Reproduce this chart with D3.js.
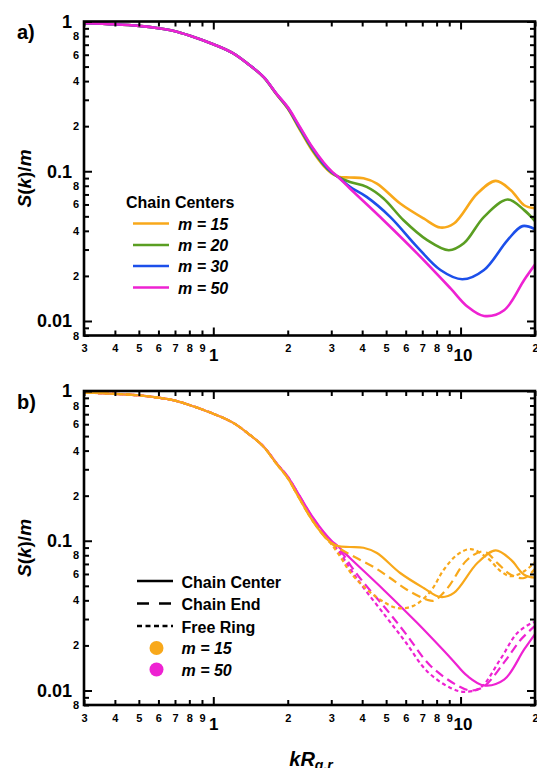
<!DOCTYPE html>
<html>
<head>
<meta charset="utf-8">
<script src="https://cdn.jsdelivr.net/npm/d3@7"></script>
<style>
  html, body { margin: 0; padding: 0; background: #fff; }
  svg { display: block; font-family: Arial, "Liberation Sans", sans-serif; }
</style>
</head>
<body>
<svg id="chart" width="537" height="768"></svg>
<script>
// ---------- axis ticks ----------
const xTickValues = [0.3, 0.4, 0.5, 0.6, 0.7, 0.8, 0.9, 1, 2, 3, 4, 5, 6, 7, 8, 9, 10, 20];
const xTickLabels = ["3", "4", "5", "6", "7", "8", "9", "1", "2", "3", "4", "5", "6", "7", "8", "9", "10", "2"];
const xMajorTicks = [1, 10];

const yTickValues = [0.008, 0.009, 0.01, 0.02, 0.03, 0.04, 0.05, 0.06, 0.07, 0.08, 0.09,
                     0.1, 0.2, 0.3, 0.4, 0.5, 0.6, 0.7, 0.8, 0.9, 1];
const yTickLabels = ["8", "", "0.01", "2", "", "4", "", "6", "", "8", "",
                     "0.1", "2", "", "4", "", "6", "", "8", "", "1"];
const yMajorTicks = [0.01, 0.1, 1];

// ---------- a) chain centers ----------
const kCenter15 = [0.3, 0.4, 0.5, 0.6, 0.7, 0.8, 1.0, 1.2, 1.4, 1.6, 1.8, 2.0, 2.2, 2.5, 2.8, 3.0, 3.2,
                   3.57, 4.05, 4.59, 5.7, 7.09, 8.29, 9.4, 11.69, 13.87, 15.97, 18.08, 20];
const sCenter15 = [0.975, 0.958, 0.935, 0.902, 0.862, 0.807, 0.705, 0.615, 0.512, 0.423, 0.327, 0.262, 0.199, 0.139, 0.108, 0.097, 0.092,
                   0.0908, 0.0898, 0.0828, 0.0609, 0.0484, 0.0421, 0.0448, 0.071, 0.0862, 0.0747, 0.0593, 0.0566];

const kCenter20 = [0.3, 0.4, 0.5, 0.6, 0.7, 0.8, 1.0, 1.2, 1.4, 1.6, 1.8, 2.0, 2.2, 2.5, 2.8, 3.0, 3.2,
                   3.57, 4.17, 4.88, 5.88, 7.33, 8.96, 10.31, 12.44, 15.49, 18.08, 20];
const sCenter20 = [0.975, 0.958, 0.935, 0.902, 0.862, 0.807, 0.705, 0.615, 0.512, 0.424, 0.328, 0.264, 0.202, 0.142, 0.110, 0.0985, 0.0918,
                   0.0848, 0.0786, 0.0658, 0.0471, 0.0347, 0.0297, 0.033, 0.0496, 0.0648, 0.055, 0.0465];

const kCenter30 = [0.3, 0.4, 0.5, 0.6, 0.7, 0.8, 1.0, 1.2, 1.4, 1.6, 1.8, 2.0, 2.2, 2.5, 2.8, 3.0, 3.2,
                   3.57, 4.17, 5.19, 6.67, 8.29, 10.16, 12.44, 15.49, 17.8, 20];
const sCenter30 = [0.975, 0.958, 0.935, 0.902, 0.862, 0.807, 0.705, 0.615, 0.512, 0.425, 0.329, 0.266, 0.205, 0.145, 0.112, 0.099, 0.0915,
                   0.0786, 0.0674, 0.0496, 0.0313, 0.0219, 0.019, 0.0219, 0.0347, 0.043, 0.041];

const kCenter50 = [0.3, 0.4, 0.5, 0.6, 0.7, 0.8, 1.0, 1.2, 1.4, 1.6, 1.8, 2.0, 2.2, 2.5, 2.8, 3.0, 3.2,
                   3.57, 4.88, 6.67, 9.11, 10.65, 12.44, 15.0, 18.08, 20];
const sCenter50 = [0.975, 0.958, 0.935, 0.902, 0.862, 0.807, 0.705, 0.615, 0.512, 0.425, 0.33, 0.268, 0.208, 0.147, 0.114, 0.1005, 0.0915,
                   0.0767, 0.0471, 0.0283, 0.0165, 0.0125, 0.0108, 0.0118, 0.0188, 0.0238];

// ---------- b) chain ends and free rings ----------
const kEnd15 = [0.3, 0.4, 0.5, 0.6, 0.7, 0.8, 1.0, 1.2, 1.4, 1.6, 1.8, 2.0, 2.2, 2.5, 2.8, 3.0,
                3.3, 3.8, 4.5, 5.19, 6.07, 7.32, 7.8, 8.83, 10.65, 12.44, 14.1, 15.97, 18.08, 20];
const sEnd15 = [0.975, 0.958, 0.935, 0.902, 0.862, 0.807, 0.705, 0.615, 0.512, 0.423, 0.327, 0.262, 0.199, 0.139, 0.108, 0.096,
                0.087, 0.0767, 0.066, 0.0564, 0.0471, 0.0404, 0.0398, 0.048, 0.0747, 0.0848, 0.0708, 0.0593, 0.0564, 0.065];

const kRing15 = [0.3, 0.4, 0.5, 0.6, 0.7, 0.8, 1.0, 1.2, 1.4, 1.6, 1.8, 2.0, 2.2, 2.5, 2.8, 3.0,
                 3.3, 3.57, 4.05, 4.73, 5.53, 6.46, 7.55, 8.55, 9.7, 10.98, 12.84, 14.54, 15.97, 18.08, 20];
const sRing15 = [0.975, 0.958, 0.935, 0.902, 0.862, 0.807, 0.705, 0.615, 0.512, 0.423, 0.327, 0.262, 0.199, 0.139, 0.108, 0.095,
                 0.076, 0.062, 0.0496, 0.0404, 0.0356, 0.0368, 0.0458, 0.064, 0.0807, 0.088, 0.0767, 0.0625, 0.058, 0.0625, 0.072];

const kEnd50 = [0.3, 0.4, 0.5, 0.6, 0.7, 0.8, 1.0, 1.2, 1.4, 1.6, 1.8, 2.0, 2.2, 2.5, 2.8, 3.0,
                3.3, 3.6, 4.0, 5.0, 6.0, 7.5, 9.7, 11.0, 12.4, 15.0, 17.5, 20];
const sEnd50 = [0.975, 0.958, 0.935, 0.902, 0.862, 0.807, 0.705, 0.615, 0.512, 0.425, 0.33, 0.268, 0.207, 0.146, 0.113, 0.099,
                0.084, 0.068, 0.054, 0.035, 0.024, 0.0148, 0.0108, 0.0100, 0.0106, 0.0154, 0.0218, 0.027];

const kRing50 = [0.3, 0.4, 0.5, 0.6, 0.7, 0.8, 1.0, 1.2, 1.4, 1.6, 1.8, 2.0, 2.2, 2.5, 2.8, 3.0,
                 3.3, 3.6, 4.0, 5.0, 6.0, 7.3, 9.1, 10.3, 12.0, 14.5, 17.0, 19.6, 20];
const sRing50 = [0.975, 0.958, 0.935, 0.902, 0.862, 0.807, 0.705, 0.615, 0.512, 0.425, 0.33, 0.268, 0.206, 0.145, 0.112, 0.098,
                 0.080, 0.064, 0.050, 0.031, 0.021, 0.0135, 0.0104, 0.0098, 0.0104, 0.0162, 0.0243, 0.0284, 0.0286];

// ---------- styling ----------
const ORANGE = "#F8A81A";
const GREEN = "#5A9E22";
const BLUE = "#1C4FEA";
const MAGENTA = "#EE22D2";
const DASHED = "9,5";
const DOTTED = "4,3";

const svg = d3.select("#chart");
const X_LEFT = 84, X_RIGHT = 535;

const pairs = (ks, ss) => ks.map((k, i) => [k, ss[i]]);

function drawPanel(top, bottom, id, series) {
  const x = d3.scaleLog().domain([0.3, 20]).range([X_LEFT, X_RIGHT]);
  const y = d3.scaleLog().domain([0.008, 1]).range([bottom, top]);
  const g = svg.append("g");

  g.append("clipPath").attr("id", id)
    .append("rect").attr("x", X_LEFT).attr("y", top)
    .attr("width", X_RIGHT - X_LEFT).attr("height", bottom - top);

  const line = d3.line()
    .x(d => x(d[0])).y(d => y(d[1]))
    .curve(d3.curveCatmullRom.alpha(0.5));

  const curves = g.append("g").attr("clip-path", `url(#${id})`);
  series.forEach(s => {
    curves.append("path")
      .datum(pairs(s.k, s.s))
      .attr("d", line)
      .attr("fill", "none")
      .attr("stroke", s.color)
      .attr("stroke-width", s.width)
      .attr("stroke-dasharray", s.dash || null)
      .attr("stroke-linecap", "butt")
      .attr("stroke-linejoin", "round");
  });

  const isMajorX = d => xMajorTicks.includes(d);
  const isMajorY = d => yMajorTicks.includes(d);

  // bottom axis with labels
  const gb = g.append("g").attr("transform", `translate(0,${bottom})`)
    .call(d3.axisBottom(x).tickValues(xTickValues)
      .tickFormat(d => xTickLabels[xTickValues.indexOf(d)])
      .tickSizeOuter(0).tickSizeInner(-5).tickPadding(8));
  gb.select(".domain").remove();
  gb.selectAll(".tick line").attr("y2", d => isMajorX(d) ? -8 : -5).attr("stroke", "#000").attr("stroke-width", 2);
  gb.selectAll(".tick text")
    .attr("fill", "#000").attr("font-weight", "bold")
    .attr("font-family", "Arial, 'Liberation Sans', sans-serif")
    .attr("font-size", d => isMajorX(d) ? 17 : 11)
    .attr("x", d => d === 10 ? 2 : 0)
    .attr("y", d => isMajorX(d) ? 13 : 9);

  // top axis, ticks only
  const gt = g.append("g").attr("transform", `translate(0,${top})`)
    .call(d3.axisTop(x).tickValues(xTickValues).tickFormat("")
      .tickSizeOuter(0).tickSizeInner(-5));
  gt.select(".domain").remove();
  gt.selectAll(".tick line").attr("y2", d => isMajorX(d) ? 8 : 5).attr("stroke", "#000").attr("stroke-width", 2);

  // left axis with labels
  const gl = g.append("g").attr("transform", `translate(${X_LEFT},0)`)
    .call(d3.axisLeft(y).tickValues(yTickValues)
      .tickFormat(d => yTickLabels[yTickValues.indexOf(d)])
      .tickSizeOuter(0).tickSizeInner(-5).tickPadding(5));
  gl.select(".domain").remove();
  gl.selectAll(".tick line").attr("x2", d => isMajorY(d) ? 8 : 5).attr("stroke", "#000").attr("stroke-width", 2);
  gl.selectAll(".tick text")
    .attr("fill", "#000").attr("font-weight", "bold")
    .attr("font-family", "Arial, 'Liberation Sans', sans-serif")
    .attr("font-size", d => isMajorY(d) ? 18 : 11)
    .attr("x", d => isMajorY(d) ? -12 : -5);

  // right axis, ticks only
  const gr = g.append("g").attr("transform", `translate(${X_RIGHT},0)`)
    .call(d3.axisRight(y).tickValues(yTickValues).tickFormat("")
      .tickSizeOuter(0).tickSizeInner(-5));
  gr.select(".domain").remove();
  gr.selectAll(".tick line").attr("x2", d => isMajorY(d) ? -8 : -5).attr("stroke", "#000").attr("stroke-width", 2);

  // frame
  g.append("rect")
    .attr("x", X_LEFT).attr("y", top)
    .attr("width", X_RIGHT - X_LEFT).attr("height", bottom - top)
    .attr("fill", "none").attr("stroke", "#000").attr("stroke-width", 2.6);

  // y axis title S(k)/m
  const cy = (top + bottom) / 2;
  const yt = g.append("text")
    .attr("transform", `translate(31,${cy}) rotate(-90)`)
    .attr("text-anchor", "middle")
    .attr("font-size", 19).attr("font-weight", "bold").attr("fill", "#000");
  yt.append("tspan").attr("font-style", "italic").text("S");
  yt.append("tspan").text("(");
  yt.append("tspan").attr("font-style", "italic").text("k");
  yt.append("tspan").text(")/");
  yt.append("tspan").attr("font-style", "italic").text("m");

  return { x, y, g };
}

// ---------- panel a ----------
const pa = drawPanel(21.5, 335.5, "clipA", [
  { k: kCenter15, s: sCenter15, color: ORANGE, width: 2.6 },
  { k: kCenter20, s: sCenter20, color: GREEN, width: 2.6 },
  { k: kCenter30, s: sCenter30, color: BLUE, width: 2.6 },
  { k: kCenter50, s: sCenter50, color: MAGENTA, width: 2.6 }
]);

svg.append("text").attr("x", 17).attr("y", 39)
  .attr("font-size", 20).attr("font-weight", "bold").text("a)");

// legend a
const legA = svg.append("g");
legA.append("text").attr("x", 126).attr("y", 208)
  .attr("font-size", 16).attr("font-weight", "bold").text("Chain Centers");
const legendAItems = [
  { label: "m = 15", color: ORANGE, yy: 223.5 },
  { label: "m = 20", color: GREEN, yy: 245 },
  { label: "m = 30", color: BLUE, yy: 266 },
  { label: "m = 50", color: MAGENTA, yy: 287.5 }
];
legendAItems.forEach(it => {
  legA.append("line").attr("x1", 133).attr("x2", 169).attr("y1", it.yy).attr("y2", it.yy)
    .attr("stroke", it.color).attr("stroke-width", 2.6);
  legA.append("text").attr("x", 178).attr("y", it.yy + 6)
    .attr("font-size", 16).attr("font-weight", "bold").attr("font-style", "italic").text(it.label);
});

// ---------- panel b ----------
const pb = drawPanel(391, 705, "clipB", [
  { k: kRing50, s: sRing50, color: MAGENTA, width: 2.2, dash: DOTTED },
  { k: kEnd50, s: sEnd50, color: MAGENTA, width: 2.2, dash: DASHED },
  { k: kCenter50, s: sCenter50, color: MAGENTA, width: 2.2 },
  { k: kRing15, s: sRing15, color: ORANGE, width: 2.2, dash: DOTTED },
  { k: kEnd15, s: sEnd15, color: ORANGE, width: 2.2, dash: DASHED },
  { k: kCenter15, s: sCenter15, color: ORANGE, width: 2.2 }
]);

svg.append("text").attr("x", 17).attr("y", 409)
  .attr("font-size", 20).attr("font-weight", "bold").text("b)");

// legend b
const legB = svg.append("g");
const legendBLines = [
  { label: "Chain Center", dash: null, yy: 581 },
  { label: "Chain End", dash: "12,10", yy: 603.5 },
  { label: "Free Ring", dash: "5,3.5", yy: 626 }
];
legendBLines.forEach(it => {
  legB.append("line").attr("x1", 137).attr("x2", 173).attr("y1", it.yy).attr("y2", it.yy)
    .attr("stroke", "#000").attr("stroke-width", 2.4).attr("stroke-dasharray", it.dash);
  legB.append("text").attr("x", 181.5).attr("y", it.yy + 6.5)
    .attr("font-size", 16).attr("font-weight", "bold").text(it.label);
});
const legendBDots = [
  { label: "m = 15", color: ORANGE, yy: 648 },
  { label: "m = 50", color: MAGENTA, yy: 669.5 }
];
legendBDots.forEach(it => {
  legB.append("circle").attr("cx", 156.5).attr("cy", it.yy).attr("r", 7)
    .attr("fill", it.color);
  legB.append("text").attr("x", 181.5).attr("y", it.yy + 6)
    .attr("font-size", 16).attr("font-weight", "bold").attr("font-style", "italic").text(it.label);
});

// x axis title kR_g,r
const xt = svg.append("text").attr("x", 311).attr("y", 766)
  .attr("text-anchor", "middle")
  .attr("font-size", 20).attr("font-weight", "bold").attr("font-style", "italic");
xt.append("tspan").text("kR");
xt.append("tspan").attr("font-size", 14).attr("dy", 4).text("g,r");
</script>
</body>
</html>
